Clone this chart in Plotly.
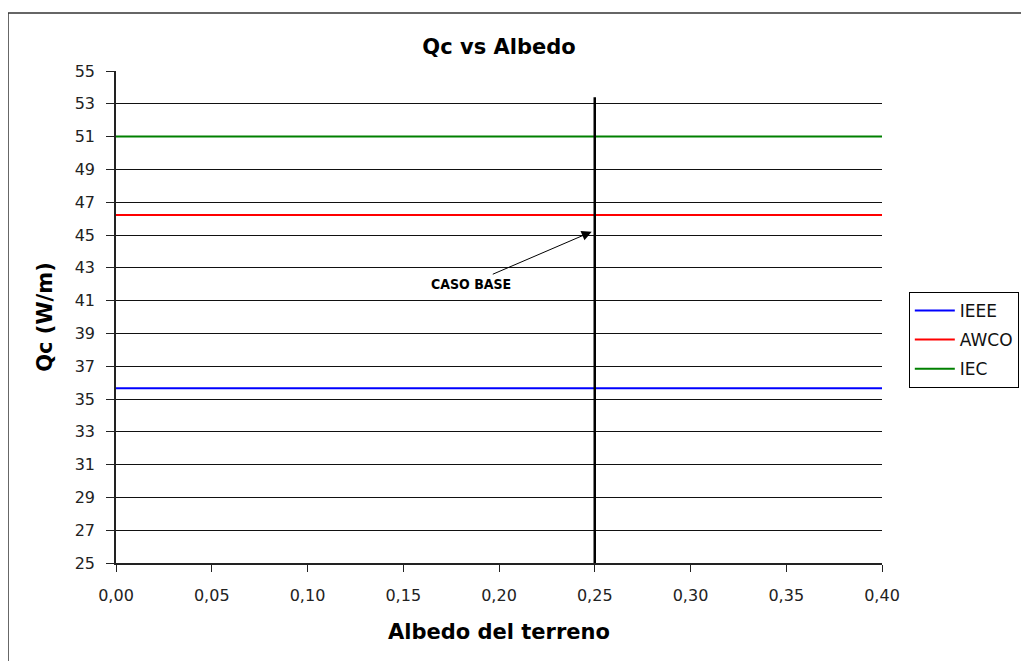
import plotly.graph_objects as go

albedo = [0.00, 0.05, 0.10, 0.15, 0.20, 0.25, 0.30, 0.35, 0.40]
qc_ieee = [35.65, 35.65, 35.65, 35.65, 35.65, 35.65, 35.65, 35.65, 35.65]
qc_awco = [46.22, 46.22, 46.22, 46.22, 46.22, 46.22, 46.22, 46.22, 46.22]
qc_iec = [51.0, 51.0, 51.0, 51.0, 51.0, 51.0, 51.0, 51.0, 51.0]
caso_base_x = [0.25, 0.25]
caso_base_y = [25, 53.4]
arrow_point = (0.2484, 45.2)

FONT = "DejaVu Sans, Verdana, Arial"

fig = go.Figure()
fig.add_trace(go.Scatter(x=albedo, y=qc_ieee, mode="lines", name="IEEE",
                         line=dict(color="#0000ff", width=2), legendgroup="a"))
fig.add_trace(go.Scatter(x=albedo, y=qc_awco, mode="lines", name="AWCO",
                         line=dict(color="#ff0000", width=2), legendgroup="b"))
fig.add_trace(go.Scatter(x=albedo, y=qc_iec, mode="lines", name="IEC",
                         line=dict(color="#008000", width=2), legendgroup="c"))
fig.add_trace(go.Scatter(x=caso_base_x, y=caso_base_y, mode="lines", showlegend=False,
                         line=dict(color="#000000", width=2.5)))

fig.add_annotation(x=arrow_point[0], y=arrow_point[1], xref="x", yref="y",
                   text="<b>CASO BASE</b>", showarrow=True, arrowhead=2, arrowsize=2,
                   arrowwidth=1, arrowcolor="#000000", ax=-121, ay=52,
                   font=dict(family="DejaVu Sans Condensed, DejaVu Sans", size=14, color="#000"))

# outer chart frame
fig.add_shape(type="line", xref="paper", yref="paper", x0=-0.141, x1=1.2, y0=1.118, y1=1.118,
              line=dict(color="#333", width=1.5))
fig.add_shape(type="line", xref="paper", yref="paper", x0=-0.141, x1=-0.141, y0=1.118, y1=-0.2,
              line=dict(color="#333", width=1.5))

fig.update_layout(
    width=1021, height=653,
    margin=dict(l=108, r=147, t=63, b=98, autoexpand=False),
    paper_bgcolor="white", plot_bgcolor="white",
    separators=",.",
    font=dict(family=FONT, color="#111"),
    title=dict(text="<b>Qc vs Albedo</b>", x=0.5, xref="paper", xanchor="center",
               y=1 - 39 / 653, yref="container", yanchor="middle",
               font=dict(family=FONT, size=21, color="#000")),
    xaxis=dict(range=[0, 0.4], tick0=0, dtick=0.05, tickformat=".2f",
               showgrid=False, zeroline=False, showline=True, linecolor="#222", linewidth=1.5,
               ticks="outside", ticklen=7, tickcolor="#222", ticklabelstandoff=10,
               tickfont=dict(family=FONT, size=16, color="#222"),
               title=dict(text="<b>Albedo del terreno</b>", font=dict(family=FONT, size=21, color="#000"), standoff=20)),
    yaxis=dict(range=[25, 55], tick0=25, dtick=2,
               showgrid=True, gridcolor="#111", gridwidth=1,
               zeroline=False, showline=True, linecolor="#222", linewidth=1.5,
               ticks="outside", ticklen=8, tickcolor="#222", ticklabelstandoff=8,
               tickfont=dict(family=FONT, size=16, color="#222"),
               title=dict(text="<b>Qc (W/m)</b>", font=dict(family=FONT, size=21, color="#000"), standoff=16)),
    legend=dict(x=1.035, y=0.551, xanchor="left", yanchor="top",
                bordercolor="#000", borderwidth=1, bgcolor="white",
                font=dict(family=FONT, size=17, color="#111"), tracegroupgap=4,
                itemwidth=40),
)

fig.write_html("out.html")
